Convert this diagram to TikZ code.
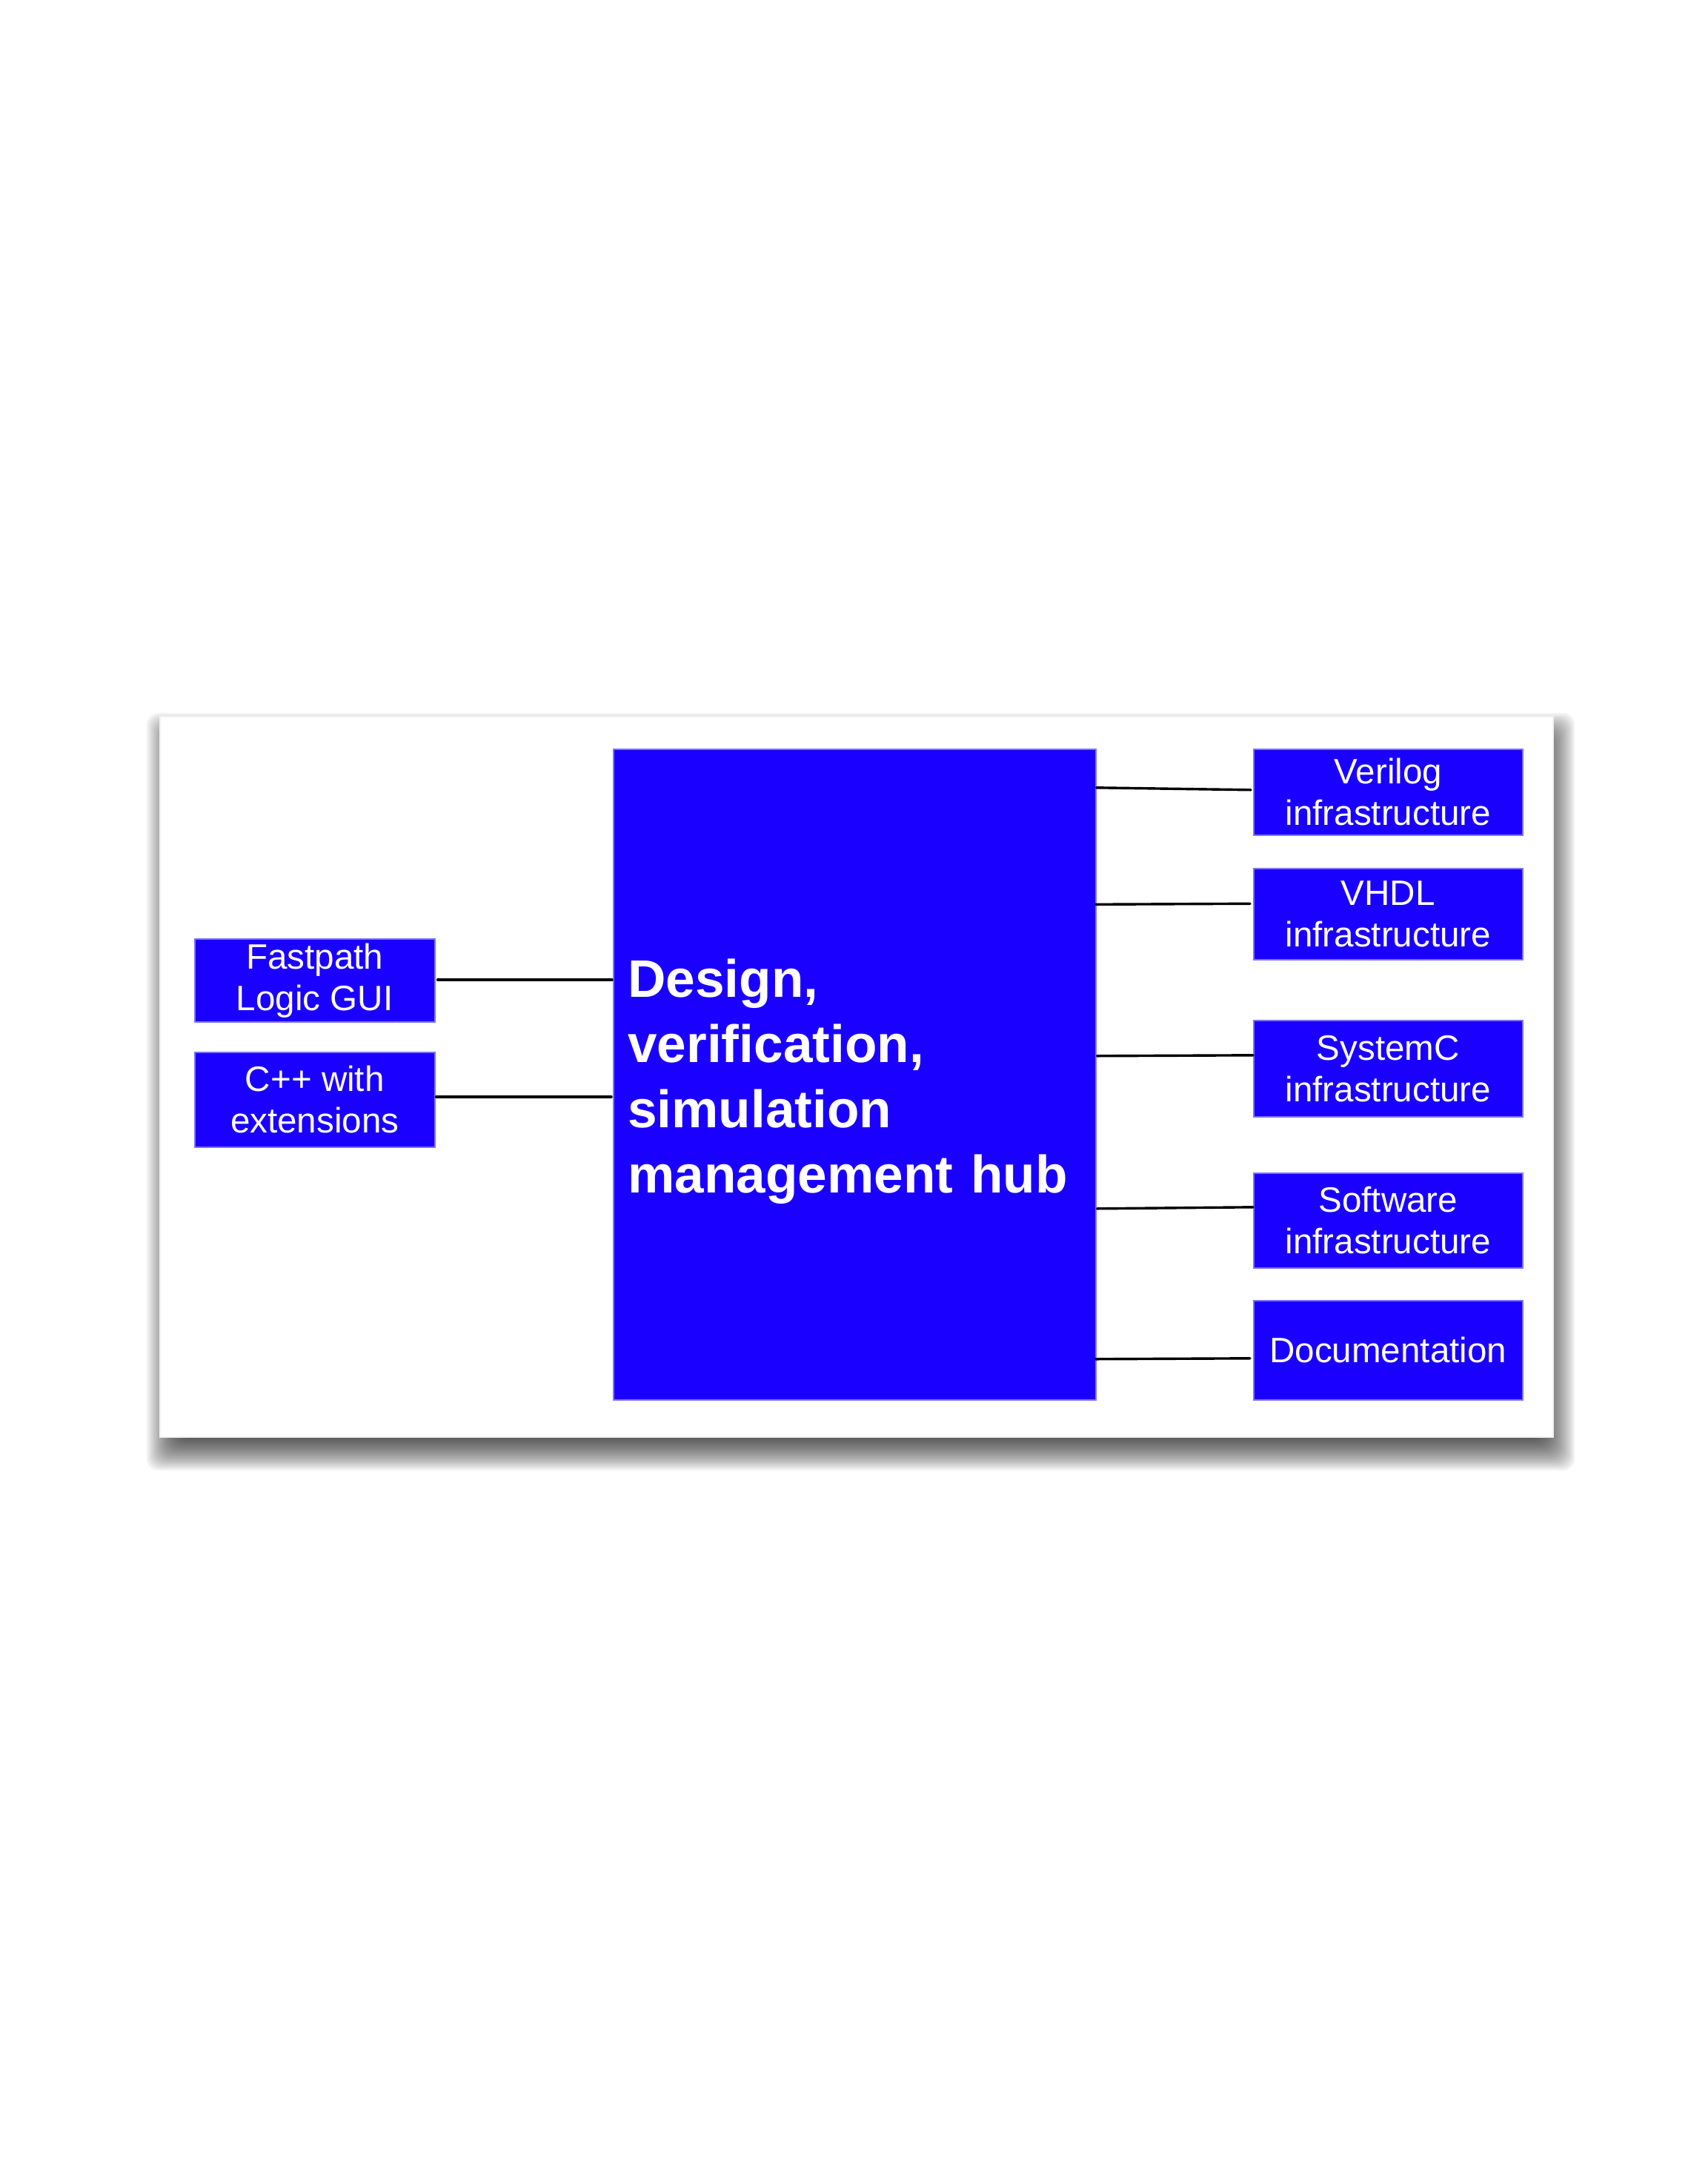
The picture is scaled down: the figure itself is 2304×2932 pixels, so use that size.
\documentclass[tikz,border=0pt]{standalone}
\usepackage{fontspec}
\setmainfont{Liberation Sans}
\usetikzlibrary{calc}
\definecolor{hubblue}{RGB}{26,0,255}
\definecolor{edgeblue}{RGB}{125,115,255}
\begin{document}
\begin{tikzpicture}[x=0.25pt,y=-0.25pt,
  box/.style={fill=hubblue, draw=edgeblue, line width=0.4pt, text=white, inner sep=0pt,
    align=center, anchor=north west, font=\fontsize{11.9}{14}\selectfont},
  leftbox/.style={box, minimum width=81pt},
  rightbox/.style={box, minimum width=90.75pt},
  conn/.style={draw=black, line width=0.85pt, line cap=round}]
\useasboundingbox (0,0) rectangle (2304,2932);
\fill[white] (0,0) rectangle (2304,2932);
% drop shadow of the slide frame
\foreach \i in {0,...,19}{
  \fill[black, opacity=0.05, rounded corners=4pt]
    (198+2.5*\i, 962+2.5*\i) rectangle (2125-2.5*\i, 1984-2.5*\i);
}
\fill[white, draw=black!5, line width=0.3pt] (216,967) rectangle (2096,1939);

\node[leftbox, minimum height=28pt] (fp) at (262,1266) {Fastpath\\Logic GUI};
\node[leftbox, minimum height=32pt] (cpp) at (262,1419) {C++ with\\extensions};
\node[box, minimum width=162.75pt, minimum height=219.5pt, text width=153pt,
  inner xsep=4.875pt, align=left, font=\bfseries\fontsize{17.8}{22}\selectfont]
  (hub) at (827,1010) {\rule{0pt}{17.5pt}Design,\\verification,\\simulation\\management hub};

\node[rightbox, minimum height=29pt] (vl) at (1691,1010) {Verilog\\infrastructure};
\node[rightbox, minimum height=30.75pt] (vh) at (1691,1171) {VHDL\\infrastructure};
\node[rightbox, minimum height=32.5pt] (sc) at (1691,1376) {SystemC\\infrastructure};
\node[rightbox, minimum height=32pt] (sw) at (1691,1582) {Software\\infrastructure};
\node[rightbox, minimum height=33.5pt] (doc) at (1691,1754) {Documentation};

\draw[conn] ($(fp.east)+(3,-1)$) -- ($(fp.east -| hub.west)+(-1,-1)$);
\draw[conn] ($(cpp.east)+(1,-4)$) -- ($(cpp.east -| hub.west)+(-2,-4)$);
\draw[conn] ($(vl.west -| hub.east)+(0,-6)$) -- ($(vl.west)+(-3,-3)$);
\draw[conn] ($(vh.west -| hub.east)+(-1,-13)$) -- ($(vh.west)+(-4,-14)$);
\draw[conn] ($(sc.west -| hub.east)+(1,-17)$) -- ($(sc.west)+(0,-18)$);
\draw[conn] ($(sw.west -| hub.east)+(1,-16)$) -- ($(sw.west)+(0,-18)$);
\draw[conn] ($(doc.west -| hub.east)+(-1,12)$) -- ($(doc.west)+(-4,11)$);
\end{tikzpicture}
\end{document}
